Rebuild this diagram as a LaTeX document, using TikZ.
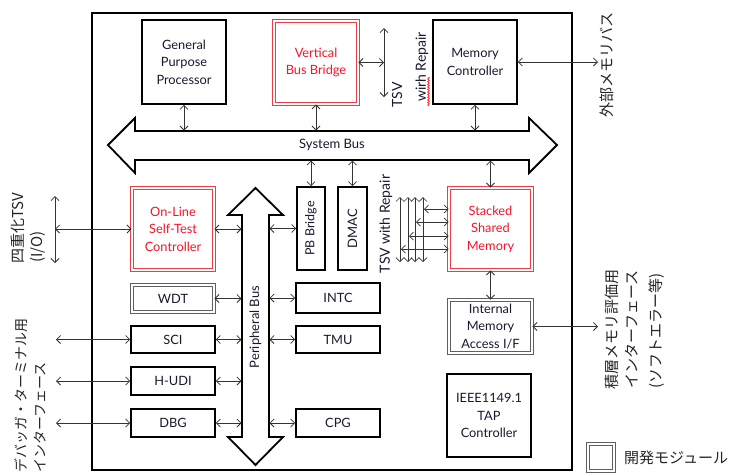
\documentclass[tikz,border=0pt]{standalone}
\usepackage{fontspec}
\setmainfont{Lato}
\newfontfamily\jpf{Noto Sans CJK JP}
\usetikzlibrary{arrows.meta,decorations.pathmorphing}
\definecolor{txt}{RGB}{25,25,45}
\definecolor{redtxt}{RGB}{245,20,40}
\definecolor{redln}{RGB}{240,60,70}
\definecolor{grayln}{RGB}{95,95,95}
\begin{document}
\begin{tikzpicture}[x=1pt,y=-1pt,
  >={Straight Barb[length=4pt,width=8pt]},
  box/.style={draw=black,line width=1.6pt,fill=white,align=center,inner sep=1pt,text=txt,font=\fontsize{12.8}{17.5}\selectfont},
  redbox/.style={box,draw=redln,line width=0.9pt,double=white,double distance=1.6pt,text=redtxt},
  graybox/.style={box,draw=grayln,line width=0.9pt,double=white,double distance=1.6pt},
  conn/.style={<->,line width=0.8pt,draw=black!80},
  bus/.style={draw=black,line width=1.8pt,fill=white,line join=miter},
  jptext/.style={font=\jpf\fontsize{15}{15}\selectfont,text=black!85,inner sep=0pt},
  jpsmall/.style={font=\jpf\fontsize{14}{14}\selectfont,text=black!85,inner sep=0pt},
  bigtxt/.style={font=\fontsize{14}{14}\selectfont,text=txt,inner sep=0pt},
]
\useasboundingbox (0,0) rectangle (737,475);
\fill[white] (0,0) rectangle (737,475);
% frame
\draw[line width=1.6pt] (92,13) rectangle (572,470);
% system bus
\draw[bus] (108,145) -- (135,118) -- (135,131) -- (529,131) -- (529,118) -- (557,145)
  -- (529,173) -- (529,160) -- (135,160) -- (135,173) -- cycle;
\node[text=txt,font=\fontsize{13}{13}\selectfont] (sblabel) at (332,145) {System Bus};
\coordinate (sbT) at (0,130.5);
\coordinate (sbB) at (0,160.5);
% peripheral bus
\draw[bus] (255.5,188) -- (283,215) -- (269,215) -- (269,437) -- (283,437) -- (255.5,465)
  -- (228,437) -- (242,437) -- (242,215) -- (228,215) -- cycle;
\node[rotate=90,text=txt,font=\fontsize{13}{13}\selectfont] (pblabel) at (255.5,327) {Peripheral Bus};
\coordinate (pbL) at (241.5,0);
\coordinate (pbR) at (269.5,0);
% top boxes
\node[box,minimum width=84pt,minimum height=84pt] (gpp) at (184,62) {General\\Purpose\\Processor};
\node[redbox,minimum width=84pt,minimum height=83pt] (vbb) at (316,62.5) {Vertical\\Bus Bridge};
\node[box,minimum width=84pt,minimum height=84pt] (mc) at (475,62) {Memory\\Controller};
% left boxes
\node[redbox,minimum width=82pt,minimum height=82pt] (olst) at (173,229) {On-Line\\Self-Test\\Controller};
\node[graybox,minimum width=82pt,minimum height=27pt] (wdt) at (173,298.5) {WDT};
\node[box,minimum width=84pt,minimum height=27pt] (sci) at (173,339.5) {SCI};
\node[box,minimum width=84pt,minimum height=28pt] (hudi) at (173,381) {H-UDI};
\node[box,minimum width=84pt,minimum height=28pt] (dbg) at (173,423) {DBG};
% middle boxes
\node[box,minimum width=28pt,minimum height=83pt] (pbb) at (311,228.5) {};
\node[rotate=90,text=txt,font=\fontsize{12.5}{12}\selectfont] (pbbt) at (pbb) {PB Bridge};
\node[box,minimum width=29pt,minimum height=83pt] (dmac) at (352.5,228.5) {};
\node[rotate=90,text=txt,font=\fontsize{13}{12}\selectfont] (dmact) at (dmac) {DMAC};
\node[box,minimum width=84pt,minimum height=30pt] (intc) at (338,298) {INTC};
\node[box,minimum width=84pt,minimum height=27pt] (tmu) at (338,339.5) {TMU};
\node[box,minimum width=84pt,minimum height=28pt] (cpg) at (338,423) {CPG};
% right boxes
\node[redbox,minimum width=83pt,minimum height=82pt] (ssm) at (490.5,229) {Stacked\\Shared\\Memory};
\node[graybox,minimum width=83pt,minimum height=53pt] (ima) at (490.5,326.5) {Internal\\Memory\\Access I/F};
\node[box,minimum width=84pt,minimum height=83pt] (tap) at (489,415.5) {IEEE1149.1\\TAP\\Controller};
% legend
\node[graybox,minimum width=26pt,minimum height=27pt] (leg) at (601,457.5) {};
\node[jptext,anchor=west] (legt) at (624,458) {開発モジュール};
% system bus connectors
\draw[conn] (gpp.south) -- (gpp.south |- sbT);
\draw[conn] (vbb.south) -- (vbb.south |- sbT);
\draw[conn] (mc.south) -- (mc.south |- sbT);
\draw[conn] (pbb.north) -- (pbb.north |- sbB);
\draw[conn] (dmac.north) -- (dmac.north |- sbB);
\draw[conn] (ssm.north) -- (ssm.north |- sbB);
\draw[conn] (ssm.south) -- (ima.north);
% TSV near vertical bus bridge
\coordinate (tsvA) at (384,28);
\coordinate (tsvB) at (384,97);
\draw[conn] (tsvA) -- (tsvB);
\draw[conn] (vbb.east) -- (vbb.east -| tsvA);
\node[bigtxt,rotate=90] (tsvt) at (397,95) {TSV};
\node[bigtxt,rotate=90] (wirh) at (422,67) {wirh Repair};
\draw[red,line width=0.6pt,decorate,decoration={snake,amplitude=0.9pt,segment length=2.6pt}] (428.5,77) -- (428.5,106);
% external memory bus
\coordinate (extm) at (598,62);
\draw[conn] (mc.east) -- (mc.east -| extm);
\node[jptext,rotate=90] (extmt) at (607,65) {外部メモリバス};
% left side I/O
\coordinate (ioA) at (55,196);
\coordinate (ioB) at (55,263);
\draw[conn] (ioA) -- (ioB);
\draw[conn] (olst.west -| ioA) -- (olst.west);
\node[jptext,rotate=90] (iot1) at (18,228) {四重化TSV};
\node[jptext,rotate=90] (iot2) at (38,247) {(I/O)};
\coordinate (dbgx) at (56,0);
\draw[conn] (sci.west -| dbgx) -- (sci.west);
\draw[conn] (hudi.west -| dbgx) -- (hudi.west);
\draw[conn] (dbg.west -| dbgx) -- (dbg.west);
\node[jpsmall,rotate=90,anchor=west] (dbt1) at (21,473) {デバッガ・ターミナル用};
\node[jpsmall,rotate=90,anchor=west] (dbt2) at (40,473) {インターフェース};
% peripheral bus connectors
\draw[conn] (olst.east) -- (olst.east -| pbL);
\draw[conn] (wdt.east) -- (wdt.east -| pbL);
\draw[conn] (sci.east) -- (sci.east -| pbL);
\draw[conn] (hudi.east) -- (hudi.east -| pbL);
\draw[conn] (dbg.east) -- (dbg.east -| pbL);
\draw[conn] (pbb.west -| pbR) -- (pbb.west);
\draw[conn] (intc.west -| pbR) -- (intc.west);
\draw[conn] (tmu.west -| pbR) -- (tmu.west);
\draw[conn] (cpg.west -| pbR) -- (cpg.west);
% TSV bundle to stacked memory
\foreach \i/\x in {1/400,2/408,3/415,4/423}{
  \coordinate (tv\i a) at (\x,197);
  \coordinate (tv\i b) at (\x,262);
  \draw[conn,line width=0.7pt] (tv\i a) -- (tv\i b);
}
\foreach \i/\x/\y in {1/424/209,2/416/222,3/409/236,4/401/249}{
  \coordinate (th\i) at (\x,\y);
  \draw[conn,line width=0.7pt] (th\i) -- (th\i -| ssm.west);
}
\node[bigtxt,rotate=90] (tsvr) at (386,224) {TSV with Repair};
% memory evaluation interface
\coordinate (evx) at (598,0);
\draw[conn] (ima.east) -- (ima.east -| evx);
\node[jptext,rotate=90,anchor=west] (ev1) at (612,390) {積層メモリ評価用};
\node[jptext,rotate=90,anchor=west] (ev2) at (632,389) {インターフェース};
\node[jptext,rotate=90,anchor=west] (ev3) at (657,389) {(ソフトエラー等)};
\end{tikzpicture}
\end{document}
